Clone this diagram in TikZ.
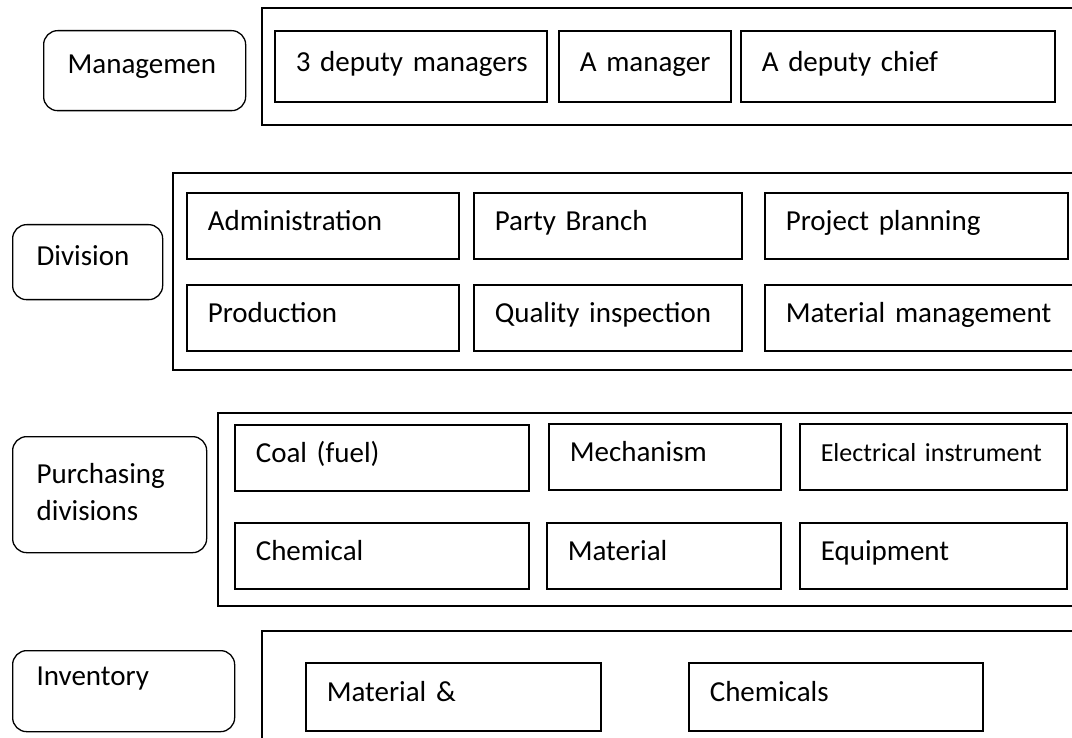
\documentclass[tikz,border=0pt]{standalone}
\usepackage{fontspec}
\setmainfont{Carlito}
\tikzset{unit/.style n args={2}{draw,line width=1.6pt,anchor=north west,minimum width=#1pt,minimum height=#2pt,inner xsep=21pt,inner ysep=0pt,text width=#1pt-42pt,align=left,text height=21pt,text depth=11pt,font=\fontsize{29}{37}\selectfont,execute at begin node=\hbox\bgroup,execute at end node=\egroup}}
\tikzset{head/.style n args={2}{draw,line width=1.3pt,rounded corners=14pt,anchor=north west,minimum width=#1pt,minimum height=#2pt,inner xsep=24pt,inner ysep=0pt,text width=#1pt-48pt,align=left,text height=21pt,text depth=11pt,font=\fontsize{29}{37}\selectfont}}
\tikzset{tier/.style={draw,line width=1.6pt}}

\begin{document}
\begin{tikzpicture}[x=1pt,y=-1pt]
            \useasboundingbox (0,0) rectangle (1072,738);
            \clip (0,0) rectangle (1072,738);

            % management
            \node[head={202}{80},text depth=15pt] (mgmt) at (43,30) {Managemen};
            \draw[tier] (262,8) rectangle (1100,125);
            \node[unit={272}{71}] (deputies) at (274,30) {3 deputy managers};
            \node[unit={172}{71}] (manager) at (558,30) {A manager};
            \node[unit={314}{71}] (chief) at (740,30) {A deputy chief};

            % division
            \node[head={150}{75},text depth=15pt] (division) at (12,224) {Division};
            \draw[tier] (173,173) rectangle (1100,370);
            \node[unit={272}{66}] (admin) at (186,192) {Administration};
            \node[unit={268}{66}] (party) at (473,192) {Party Branch};
            \node[unit={303}{66}] (planning) at (764,192) {Project planning};
            \node[unit={272}{66}] (production) at (186,284) {Production};
            \node[unit={268}{66}] (quality) at (473,284) {Quality inspection};
            \node[unit={330}{66}] (matmgmt) at (764,284) {Material management};

            % purchasing
            \node[head={194}{116},text depth=44pt] (purchasing) at (12,436) {Purchasing\\divisions};
            \draw[tier] (218,413) rectangle (1100,606);
            \node[unit={294}{66}] (coal) at (234,424) {Coal (fuel)};
            \node[unit={232}{66}] (mechanism) at (548,423) {Mechanism};
            \node[unit={267}{66},font=\fontsize{26}{32}\selectfont] (electrical) at (799,423) {Electrical instrument};
            \node[unit={294}{66}] (chemical) at (234,522) {Chemical};
            \node[unit={234}{66}] (material) at (546,522) {Material};
            \node[unit={267}{66}] (equipment) at (799,522) {Equipment};

            % inventory
            \node[head={222}{81},text depth=33pt] (inventory) at (12,650) {Inventory};
            \draw[tier] (262,631) rectangle (1100,760);
            \node[unit={295}{68}] (matamp) at (305,662) {Material \&};
            \node[unit={294}{68}] (chemicals) at (688,662) {Chemicals};

        \end{tikzpicture}
\end{document}
